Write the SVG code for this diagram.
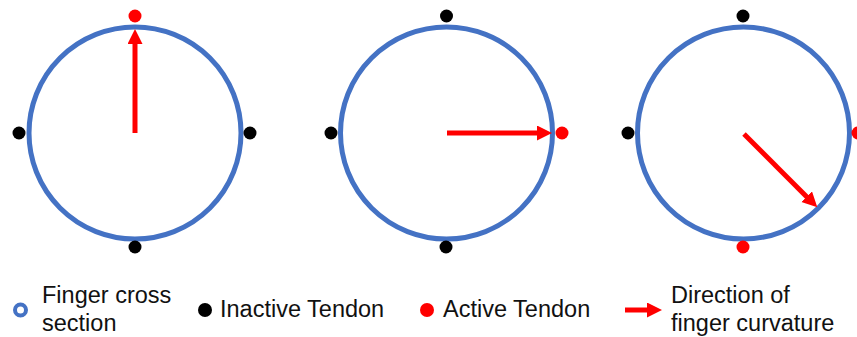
<svg xmlns="http://www.w3.org/2000/svg" width="857" height="337" viewBox="0 0 857 337">
  <style>
    .ring { fill: none; stroke: #4472C4; stroke-width: 5; }
    .inactive { fill: #000000; }
    .active { fill: #FF0000; }
    .dir { stroke: #FF0000; stroke-width: 5; fill: none; marker-end: url(#head); }
    .label { font-family: "Liberation Sans", Arial, sans-serif; font-size: 23.5px; fill: #111111; }
  </style>
  <defs>
    <marker id="head" markerUnits="userSpaceOnUse" markerWidth="16" markerHeight="16" refX="1" refY="7.5" orient="auto">
      <path d="M0,0 L15,7.5 L0,15 z" fill="#FF0000"/>
    </marker>
  </defs>

  <!-- Cross section 1: top tendon active, curving upward -->
  <g id="section1">
    <circle class="ring" cx="135" cy="133" r="106"/>
    <circle class="active" cx="135" cy="16" r="6.5"/>
    <circle class="inactive" cx="19" cy="133" r="6.5"/>
    <circle class="inactive" cx="250" cy="133" r="6.5"/>
    <circle class="inactive" cx="135" cy="247" r="6.5"/>
  </g>

  <!-- Cross section 2: right tendon active -->
  <g id="section2">
    <circle class="ring" cx="446.5" cy="133" r="106"/>
    <circle class="inactive" cx="446.5" cy="16" r="6.5"/>
    <circle class="inactive" cx="331" cy="133" r="6.5"/>
    <circle class="active" cx="562" cy="133" r="6.5"/>
    <circle class="inactive" cx="446" cy="247" r="6.5"/>
  </g>

  <!-- Cross section 3: right and bottom tendons active -->
  <g id="section3">
    <circle class="ring" cx="743.5" cy="133" r="106"/>
    <circle class="inactive" cx="743" cy="16" r="6.5"/>
    <circle class="inactive" cx="628" cy="133" r="6.5"/>
    <circle class="active" cx="858" cy="133" r="6.5"/>
    <circle class="active" cx="743" cy="247" r="6.5"/>
  </g>

  <!-- Curvature directions -->
  <g id="connectors">
    <line class="dir" x1="135" y1="133" x2="135" y2="43"/>
    <line class="dir" x1="447" y1="133" x2="538" y2="133"/>
    <line class="dir" x1="744" y1="134" x2="807.4" y2="197.4"/>
  </g>

  <!-- Legend -->
  <g id="legend-section">
    <circle cx="20.5" cy="310" r="5.5" fill="none" stroke="#4472C4" stroke-width="4"/>
    <text class="label" x="42" y="303">Finger cross</text>
    <text class="label" x="42" y="331">section</text>
  </g>
  <g id="legend-inactive">
    <circle class="inactive" cx="205" cy="310" r="7"/>
    <text class="label" x="220" y="317">Inactive Tendon</text>
  </g>
  <g id="legend-active">
    <circle class="active" cx="427" cy="310" r="7"/>
    <text class="label" x="443" y="317">Active Tendon</text>
  </g>
  <g id="legend-direction">
    <line class="dir" x1="625" y1="310" x2="648" y2="310"/>
    <text class="label" x="671" y="303">Direction of</text>
    <text class="label" x="671" y="331">finger curvature</text>
  </g>
</svg>
